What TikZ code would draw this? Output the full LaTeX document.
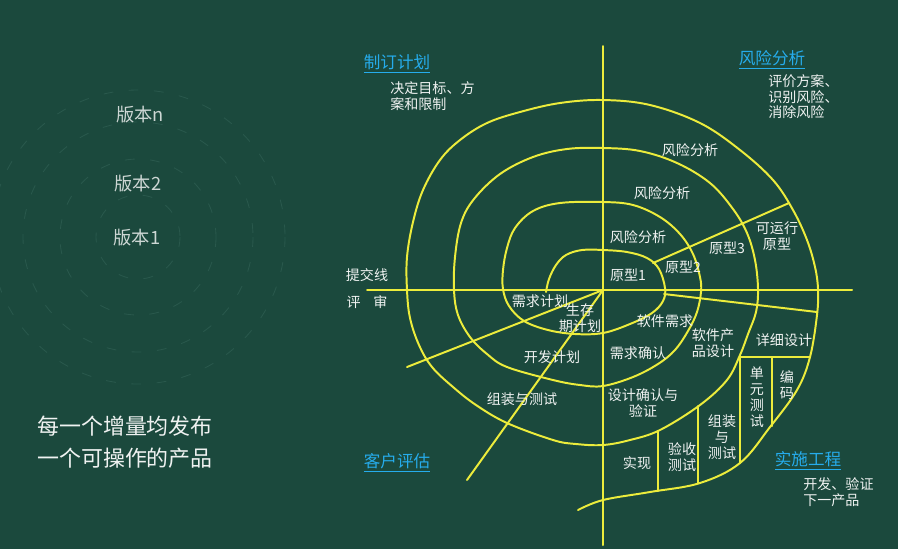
\documentclass[tikz,border=0pt]{standalone}
\usepackage{fontspec}
\setmainfont{Noto Sans CJK SC}
\definecolor{board}{RGB}{27,73,61}
\definecolor{chalk}{RGB}{236,236,60}
\definecolor{ttlblue}{RGB}{38,172,236}
\definecolor{ghost}{RGB}{41,88,76}
\tikzset{
  ln/.style={chalk,line width=1.4pt,line cap=round,line join=round},
  txt/.style={text=white!93!board,font=\fontsize{10}{11.3}\selectfont,inner sep=0pt,align=center},
  ttl/.style={text=ttlblue,font=\fontsize{11.8}{13}\selectfont,inner sep=0pt},
  ver/.style={text=white!78!board,font=\fontsize{13}{14}\selectfont,inner sep=0pt},
}

\begin{document}
\begin{tikzpicture}[x=.025cm,y=-.025cm]
\useasboundingbox (0,0) rectangle (898,549);
\fill[board] (0,0) rectangle (898,549);
\foreach \r in {42,78,115,147} \draw[ghost,line width=.6pt,dash pattern=on 7pt off 11pt] (138,237) circle (\r);
\node[ver] (vn) at (140,115) {版本n};\node[ver] (v2) at (138,184) {版本2};\node[ver] (v1) at (137,238) {版本1};
\node[txt,anchor=north west,align=left,font=\fontsize{15.6}{22.7}\selectfont] (note) at (37,416) {每一个增量均发布\\一个可操作的产品};
\coordinate (O) at (603,290);\coordinate (top) at (603,46);\coordinate (bot) at (603,545);
\coordinate (lft) at (367,290);\coordinate (rgt) at (852,290);
\coordinate (sw1) at (407,367);\coordinate (sw2) at (467,480);
\coordinate (ne1) at (653,263);\coordinate (ne2) at (789,203);
\coordinate (se1) at (664,294);\coordinate (se2) at (817,312);
\draw[ln] (top)--(bot);\draw[ln] (lft)--(rgt);
\draw[ln] (O)--(sw1);\draw[ln] (O)--(sw2);\draw[ln] (ne1)--(ne2);\draw[ln] (se1)--(se2);
\draw[ln] plot[smooth,tension=.6] coordinates {(546,292) (549,279) (556,265) (566,255) (582,250) (603,250) (627,252) (647,258) (659,269) (665,288) (663,301) (652,313) (630,324) (603,333) (575,334) (548,330) (524,321) (509,306) (503,289) (503,270) (507,248) (515,228) (533,211) (560,203) (603,202) (633,205) (660,217) (680,234) (693,254) (700,277) (701,292) (697,312) (688,331) (675,350) (658,364) (633,377) (603,386) (580,385) (553,380) (507,367) (487,354) (470,337) (458,315) (454,290) (455,257) (461,223) (474,199) (500,174) (533,157) (567,149) (603,148) (640,151) (677,163) (710,183) (733,209) (747,233) (755,260) (758,289) (756,312) (748,334) (740,355) (727,380) (700,405) (660,430) (630,440) (603,445) (576,444) (553,440) (507,423) (476,405) (453,387) (432,367) (419,345) (410,318) (407,290) (407,257) (413,222) (423,190) (440,160) (460,140) (487,123) (520,112) (560,103) (603,100) (650,105) (700,123) (740,150) (773,180) (793,210) (807,240) (815,267) (818,289) (817,315) (810,357) (797,390) (770,427) (740,463) (700,483) (650,492) (603,500) (578,510)};
\draw[ln] (740,357)--(810,357);\draw[ln] (740,357)--(740,463);\draw[ln] (772,357)--(772,426);
\draw[ln] (698,406)--(698,483);\draw[ln] (658,431)--(658,491);
\node[ttl] (plan) at (397,64) {\underline{制订计划}};
\node[txt,anchor=north west,align=left] (plantxt) at (390,81) {决定目标、方\\案和限制};
\node[ttl] (riskttl) at (772,60) {\underline{风险分析}};
\node[txt,anchor=north west,align=left] (risktxt) at (768,74) {评价方案、\\识别风险、\\消除风险};
\node[ttl] (custttl) at (397,463) {\underline{客户评估}};
\node[ttl] (engttl) at (808,461) {\underline{实施工程}};
\node[txt,anchor=north west,align=left] (engtxt) at (803,477) {开发、验证\\下一产品};
\node[txt] (submit) at (367,275) {提交线};\node[txt] (review) at (367,302) {评\hspace{.9em}审};
\node[txt] (ra1) at (638,237) {风险分析};\node[txt] (ra2) at (662,193) {风险分析};\node[txt] (ra3) at (690,150) {风险分析};
\node[txt] (p1) at (628,275) {原型1};\node[txt] (p2) at (683,267) {原型2};\node[txt] (p3) at (727,248) {原型3};
\node[txt] (p4) at (777,236) {可运行\\原型};
\node[txt] (reqplan) at (540,301) {需求计划};\node[txt] (life) at (580,318) {生存\\期计划};
\node[txt] (swreq) at (665,321) {软件需求};\node[txt] (reqchk) at (638,353) {需求确认};
\node[txt] (prod) at (713,343) {软件产\\品设计};
\node[txt] (devplan) at (552,357) {开发计划};\node[txt] (intplan) at (522,399) {组装与测试};
\node[txt] (dsgchk) at (643,403) {设计确认与\\验证};\node[txt] (detail) at (784,340) {详细设计};
\node[txt] (impl) at (637,463) {实现};\node[txt] (acc) at (682,457) {验收\\测试};
\node[txt] (integ) at (722,437) {组装\\与\\测试};\node[txt] (unit) at (757,397) {单\\元\\测\\试};
\node[txt] (code) at (787,385) {编\\码};
\end{tikzpicture}
\end{document}
